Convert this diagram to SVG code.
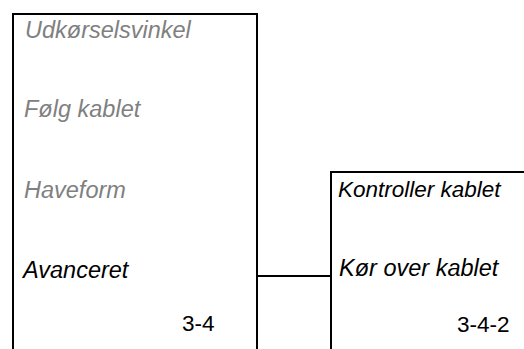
<svg xmlns="http://www.w3.org/2000/svg" width="524" height="349" viewBox="0 0 524 349">
<style>
.box{fill:none;stroke:#000;stroke-width:2}
.t{font-family:"Liberation Sans",Arial,sans-serif;font-size:23.5px;font-style:italic}
.g{fill:#808080}
.k{fill:#000}
.n{font-family:"Liberation Sans",Arial,sans-serif;font-size:22.5px;fill:#000}
</style>
<rect width="524" height="349" fill="#fff"/>
<g id="menu-3-4">
<path class="box" d="M13,352 V14 H257 V352"/>
<text class="t g" x="25" y="38">Udkørselsvinkel</text>
<text class="t g" x="24" y="117">Følg kablet</text>
<text class="t g" x="24" y="198">Haveform</text>
<text class="t k" x="23" y="278">Avanceret</text>
<text class="n" x="182" y="331">3-4</text>
</g>
<g id="menu-3-4-2">
<path class="box" d="M331,352 V172 H530"/>
<text class="t k" x="338" y="197" style="font-size:22.5px">Kontroller kablet</text>
<text class="t k" x="339" y="276">Kør over kablet</text>
<text class="n" x="457" y="332">3-4-2</text>
</g>
<g id="connectors">
<line class="box" x1="257" y1="276" x2="331" y2="276"/>
</g>
</svg>
